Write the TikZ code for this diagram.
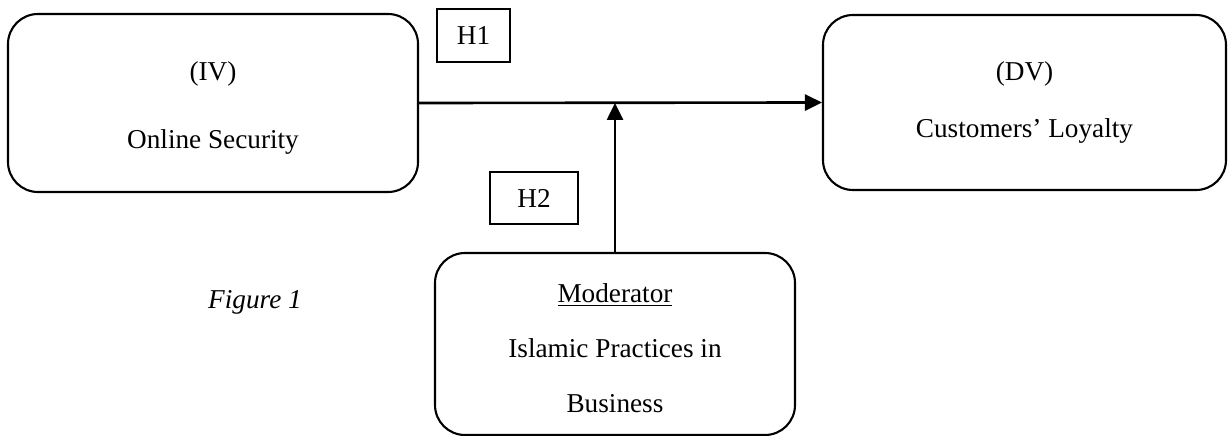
\documentclass[tikz,border=0pt]{standalone}
\usepackage{fontspec}
\setmainfont{Liberation Serif}
\usepackage{tikz}
\usetikzlibrary{arrows.meta, positioning}
\definecolor{mydark}{RGB}{0,0,0}
\tikzset{
  varbox/.style={rectangle, draw=mydark, rounded corners=0.6cm,
    line width=1.2pt, inner sep=0pt},
  vartext/.style={align=center, inner sep=0pt},
  hypbox/.style={rectangle, draw=mydark, line width=0.9pt,
    minimum height=1.05cm, inner sep=0pt,
    font=\fontsize{15.5}{18}\selectfont},
  arrow/.style={-{Triangle[length=0.34cm,width=0.32cm]}, line width=1.5pt, color=mydark}
}
\begin{document}
\begin{tikzpicture}
  \useasboundingbox (0,0) rectangle (24.56,-8.72);
  % Independent variable
  \node[varbox, minimum width=8.2cm, minimum height=3.56cm] (iv) at (4.26,-2.06) {};
  \node[vartext, font=\fontsize{15.5}{38.7}\selectfont, yshift=-0.1cm] (ivtext) at (iv)
    {(IV)\\Online Security};
  % Dependent variable
  \node[varbox, minimum width=8.06cm, minimum height=3.5cm] (dv) at (20.49,-2.05) {};
  \node[vartext, font=\fontsize{15.5}{32}\selectfont] (dvtext) at (dv)
    {(DV)\\Customers’ Loyalty};
  % Moderator
  \node[varbox, minimum width=7.2cm, minimum height=3.64cm] (mod) at (12.3,-6.88) {};
  \node[vartext, font=\fontsize{15.5}{31.3}\selectfont, yshift=-0.08cm] (modtext) at (mod)
    {\underline{Moderator}\\Islamic Practices in\\Business};
  % Hypotheses
  \node[hypbox, minimum width=1.46cm] (h1) at (9.47,-0.71) {H1};
  \node[hypbox, minimum width=1.76cm] (h2) at (10.68,-3.96) {H2};
  \node[font=\fontsize{15.5}{18}\selectfont\itshape] (fig) at (5.1,-6.05) {Figure 1};
  % Paths
  \draw[arrow] (iv.east) -- (dv.west);
  \draw[arrow] (mod.north) -- (mod.north |- iv.east);
\end{tikzpicture}
\end{document}
